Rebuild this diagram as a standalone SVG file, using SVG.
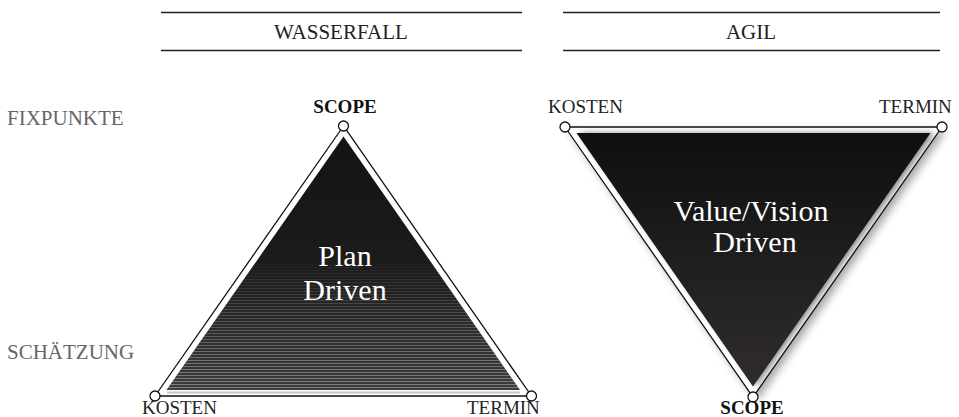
<svg xmlns="http://www.w3.org/2000/svg" width="959" height="417" viewBox="0 0 959 417">
<style>
.hdr{font-family:"Liberation Serif",serif;font-size:21px;fill:#222;text-anchor:middle}
.side{font-family:"Liberation Serif",serif;font-size:21px;fill:#666}
.vx{font-family:"Liberation Serif",serif;font-size:19px;fill:#222}
.vxb{font-family:"Liberation Serif",serif;font-size:19px;fill:#111;font-weight:bold;text-anchor:middle}
.inner{font-family:"Liberation Serif",serif;font-size:30px;fill:#fff;text-anchor:middle}
.rule{stroke:#222;stroke-width:1.6}
.outline{fill:#fff;stroke:#111;stroke-width:1.3;stroke-linejoin:miter}
.dot{fill:#fff;stroke:#111;stroke-width:1.3}
</style>
<defs>
<linearGradient id="gLeft" x1="0" y1="137" x2="0" y2="390" gradientUnits="userSpaceOnUse">
<stop offset="0" stop-color="#141414"/>
<stop offset="0.5" stop-color="#1b1b1b"/>
<stop offset="1" stop-color="#3c3c3c"/>
</linearGradient>
<linearGradient id="gStripeMask" x1="0" y1="255" x2="0" y2="390" gradientUnits="userSpaceOnUse">
<stop offset="0" stop-color="#fff" stop-opacity="0"/>
<stop offset="1" stop-color="#fff" stop-opacity="0.75"/>
</linearGradient>
<pattern id="stripes" x="0" y="0" width="10" height="3" patternUnits="userSpaceOnUse">
<rect x="0" y="0" width="10" height="1" fill="#9a9a9a"/>
</pattern>
<mask id="mStripe" maskUnits="userSpaceOnUse" x="0" y="0" width="959" height="417">
<rect x="150" y="240" width="390" height="160" fill="url(#gStripeMask)"/>
</mask>
<clipPath id="cLeftInner">
<polygon points="343.5,136.5 166.5,390 520,390"/>
</clipPath>
<linearGradient id="gRight" x1="0" y1="133" x2="0" y2="386" gradientUnits="userSpaceOnUse">
<stop offset="0" stop-color="#0f0f0f"/>
<stop offset="1" stop-color="#302c2e"/>
</linearGradient>
<filter id="fShadow" x="-20%" y="-20%" width="140%" height="140%">
<feGaussianBlur stdDeviation="4"/>
</filter>
<filter id="fInnerShadow" x="-20%" y="-20%" width="140%" height="140%">
<feGaussianBlur stdDeviation="3"/>
</filter>
<clipPath id="cRightOuter">
<polygon points="565,127 942,127 753,397"/>
</clipPath>
</defs>

<g id="header-wasserfall">
<line class="rule" x1="161" y1="12.5" x2="522" y2="12.5"/>
<line class="rule" x1="161" y1="50.5" x2="522" y2="50.5"/>
<text class="hdr" x="341" y="39">WASSERFALL</text>
</g>
<g id="header-agil">
<line class="rule" x1="563" y1="12.5" x2="940" y2="12.5"/>
<line class="rule" x1="563" y1="50.5" x2="940" y2="50.5"/>
<text class="hdr" x="751" y="39">AGIL</text>
</g>

<g id="label-fixpunkte"><text class="side" x="7" y="125">FIXPUNKTE</text></g>
<g id="label-schaetzung"><text class="side" x="7" y="359">SCHÄTZUNG</text></g>

<g id="triangle-wasserfall">
<polygon class="outline" points="343.5,126 155,396 531.5,396"/>
<polygon points="343.5,136.5 166.5,390 520,390" fill="url(#gLeft)"/>
<g clip-path="url(#cLeftInner)">
<rect x="150" y="240" width="390" height="160" fill="url(#stripes)" mask="url(#mStripe)"/>
</g>
<line x1="167" y1="392.5" x2="520" y2="392.5" stroke="#c4c4c4" stroke-width="2"/>
<text class="inner" x="345" y="266">Plan</text>
<text class="inner" x="345" y="300">Driven</text>
</g>

<g id="node-scope-left">
<circle class="dot" cx="343.5" cy="126" r="5"/>
<text class="vxb" x="345" y="113">SCOPE</text>
</g>
<g id="node-kosten-left">
<circle class="dot" cx="155" cy="396" r="5"/>
<text class="vx" x="142" y="414">KOSTEN</text>
</g>
<g id="node-termin-left">
<circle class="dot" cx="531.5" cy="396" r="5"/>
<text class="vx" x="467" y="414">TERMIN</text>
</g>

<g id="triangle-agil">
<polygon points="569,131 946,131 757,401" fill="#000" opacity="0.35" filter="url(#fShadow)"/>
<polygon class="outline" points="565,127 942,127 753,397"/>
<g clip-path="url(#cRightOuter)">
<polygon points="580,133 935,133 757,386" fill="#000" opacity="0.45" filter="url(#fInnerShadow)"/>
</g>
<polygon points="576.5,133 930.5,133 753,386.5" fill="url(#gRight)"/>
<text class="inner" x="751" y="221">Value/Vision</text>
<text class="inner" x="755" y="252">Driven</text>
</g>

<g id="node-kosten-right">
<circle class="dot" cx="565" cy="127" r="5"/>
<text class="vx" x="548" y="113">KOSTEN</text>
</g>
<g id="node-termin-right">
<circle class="dot" cx="942" cy="127" r="5"/>
<text class="vx" x="879" y="113">TERMIN</text>
</g>
<g id="node-scope-right">
<circle class="dot" cx="753" cy="397" r="5"/>
<text class="vxb" x="752" y="414">SCOPE</text>
</g>
</svg>
